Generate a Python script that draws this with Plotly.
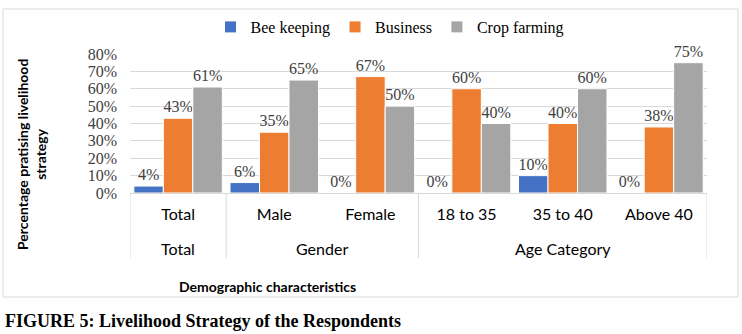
import plotly.graph_objects as go

groups = ["Total", "Gender", "Age Category"]
group_spans = [(0, 0), (1, 2), (3, 5)]
categories = ["Total", "Male", "Female", "18 to 35", "35 to 40", "Above 40"]
bee_keeping = [4, 6, 0, 0, 10, 0]
business = [43, 35, 67, 60, 40, 38]
crop_farming = [61, 65, 50, 40, 60, 75]
y_ticks = [0, 10, 20, 30, 40, 50, 60, 70, 80]

series = [
    ("Bee keeping", bee_keeping, "#4472C4"),
    ("Business", business, "#ED7D31"),
    ("Crop farming", crop_farming, "#A5A5A5"),
]

SERIF = "Liberation Serif, Times New Roman, serif"
SANS = "Lato, Carlito, Calibri, sans-serif"

L, R, T, B = 130, 35, 54, 141
PH = 334 - T - B
PW = 742 - L - R


def px_x(px):
    return (px - L) / PW


def px_y(py):
    return (334 - B - py) / PH


fig = go.Figure()
for name, vals, color in series:
    fig.add_trace(go.Bar(
        name=name,
        x=categories,
        y=vals,
        marker=dict(color=color, line=dict(color="white", width=1)),
        text=[f"{v}%" for v in vals],
        textposition="outside",
        cliponaxis=False,
        textfont=dict(family=SERIF, size=16, color="#404040"),
    ))

shapes = [dict(type="rect", xref="paper", yref="paper",
               x0=px_x(3), x1=px_x(738), y0=px_y(297), y1=px_y(9),
               line=dict(color="#D9D9D9", width=1), fillcolor="rgba(0,0,0,0)", layer="below")]
# group dividers below the axis
bounds = sorted({s - 0.5 for s, e in group_spans} | {e + 0.5 for s, e in group_spans})
for b in bounds:
    shapes.append(dict(type="line", xref="x", yref="paper", x0=b, x1=b,
                       y0=0, y1=px_y(258), line=dict(color="#D9D9D9", width=1)))

annotations = [
    dict(text="<b>Percentage pratising livelihood<br>strategy</b>", textangle=-90,
         xref="paper", yref="paper", x=px_x(31), y=px_y(155),
         xanchor="center", yanchor="middle", showarrow=False,
         font=dict(family=SANS, size=14, color="black")),
    dict(text="<b>Demographic characteristics</b>",
         xref="paper", yref="paper", x=px_x(267), y=px_y(286),
         xanchor="center", yanchor="middle", showarrow=False,
         font=dict(family=SANS, size=14, color="black")),
    dict(text="<b>FIGURE 5: Livelihood Strategy of the Respondents</b>",
         xref="paper", yref="paper", x=px_x(3), y=px_y(321),
         xanchor="left", yanchor="middle", showarrow=False,
         font=dict(family=SERIF, size=18, color="black")),
]
for g, (s, e) in zip(groups, group_spans):
    annotations.append(dict(text=g, xref="x", yref="paper", x=(s + e) / 2, y=px_y(248),
                            xanchor="center", yanchor="middle", showarrow=False,
                            font=dict(family=SANS, size=16, color="black")))

fig.update_layout(
    width=742, height=334,
    margin=dict(l=L, r=R, t=T, b=B, autoexpand=False),
    paper_bgcolor="white", plot_bgcolor="white",
    barmode="group", bargap=0.08, bargroupgap=0,
    showlegend=True,
    legend=dict(orientation="h", x=px_x(390), xanchor="center", y=px_y(27), yanchor="middle",
                font=dict(family=SERIF, size=16, color="black"),
                itemwidth=30, traceorder="normal"),
    xaxis=dict(
        type="category",
        range=[-0.5, 5.5],
        showline=True, linecolor="#D9D9D9", linewidth=1,
        tickfont=dict(family=SANS, size=16, color="black"),
        ticklabelstandoff=7,
        showgrid=False, ticks="",
    ),
    yaxis=dict(
        range=[0, 80],
        tickvals=y_ticks,
        ticktext=[f"{t}%" for t in y_ticks],
        tickfont=dict(family=SERIF, size=16, color="#404040"),
        showgrid=True, gridcolor="#D9D9D9", gridwidth=1,
        zeroline=False, showline=False,
        ticklabelstandoff=12,
    ),
    shapes=shapes,
    annotations=annotations,
)

fig.write_html("out.html", config={"displayModeBar": False},
               post_script="document.body.style.margin='0';document.body.style.overflow='hidden';")
